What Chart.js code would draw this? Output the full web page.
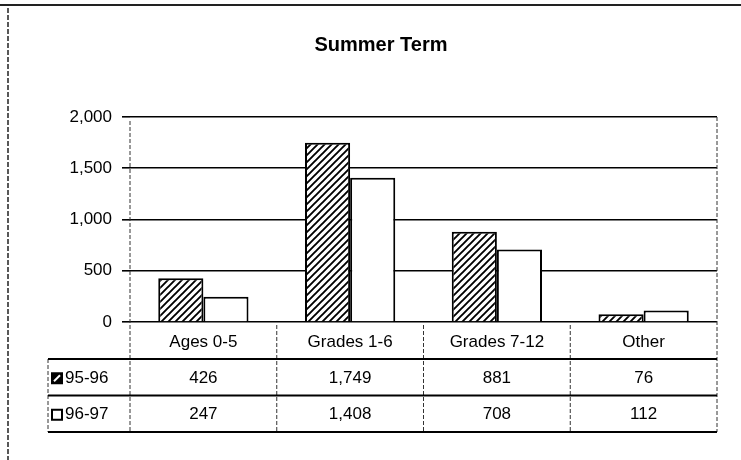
<!DOCTYPE html>
<html>
<head>
<meta charset="utf-8">
<script src="https://cdn.jsdelivr.net/npm/chart.js@4.4.1/dist/chart.umd.min.js"></script>
<style>
  html, body { margin: 0; padding: 0; background: #fff; }
</style>
</head>
<body>
<canvas id="myChart" width="741" height="460"></canvas>
<script>
const categories = ["Ages 0-5", "Grades 1-6", "Grades 7-12", "Other"];
const seriesNames = ["95-96", "96-97"];
const values9596 = [426, 1749, 881, 76];
const values9697 = [247, 1408, 708, 112];
const yTicks = [0, 500, 1000, 1500, 2000];

const FONT = "'Liberation Sans', Arial, sans-serif";

// diagonal hatch used for the 95-96 bars
function makeHatch() {
  const c = document.createElement("canvas");
  c.width = 7;
  c.height = 7;
  const g = c.getContext("2d");
  g.fillStyle = "#fff";
  g.fillRect(0, 0, 7, 7);
  g.strokeStyle = "#000";
  g.lineWidth = 1.9;
  g.beginPath();
  g.moveTo(-1, 8); g.lineTo(8, -1);
  g.moveTo(-1, 1); g.lineTo(1, -1);
  g.moveTo(6, 8); g.lineTo(8, 6);
  g.stroke();
  return g.createPattern(c, "repeat");
}
const hatch = makeHatch();

const fmt = (v) => v.toLocaleString("en-US");

// frame, category dividers and the data table under the axis
const tablePlugin = {
  id: "dataTable",
  afterDraw(chart) {
    const { ctx, chartArea } = chart;
    const xs = chart.scales.x;
    const n = categories.length;
    const step = (chartArea.right - chartArea.left) / n;
    const tableTop = chartArea.bottom + 37;
    const rowH = 36.5;
    const tableBottom = tableTop + rowH * 2;
    const tableLeft = 48;

    ctx.save();

    // page frame
    ctx.strokeStyle = "#222";
    ctx.lineWidth = 2;
    ctx.beginPath();
    ctx.moveTo(0, 5); ctx.lineTo(741, 5);
    ctx.stroke();
    ctx.setLineDash([5, 2]);
    ctx.lineWidth = 1.5;
    ctx.beginPath();
    ctx.moveTo(8, 8); ctx.lineTo(8, 460);
    ctx.stroke();

    // outer dashed edges of the plot
    ctx.strokeStyle = "#333";
    ctx.lineWidth = 1;
    ctx.setLineDash([4, 2]);
    ctx.beginPath();
    ctx.moveTo(chartArea.left, chartArea.top + 4);
    ctx.lineTo(chartArea.left, tableBottom);
    ctx.moveTo(chartArea.right, chartArea.top);
    ctx.lineTo(chartArea.right, tableBottom);
    for (let i = 1; i < n; i++) {
      const ex = chartArea.left + step * i;
      ctx.moveTo(ex, chartArea.bottom + 3);
      ctx.lineTo(ex, tableBottom);
    }
    ctx.moveTo(tableLeft, tableTop);
    ctx.lineTo(tableLeft, tableBottom);
    ctx.stroke();

    // table rules
    ctx.setLineDash([]);
    ctx.strokeStyle = "#000";
    ctx.lineWidth = 2;
    ctx.beginPath();
    for (let r = 0; r <= 2; r++) {
      const y = tableTop + rowH * r;
      ctx.moveTo(tableLeft, y);
      ctx.lineTo(chartArea.right, y);
    }
    ctx.stroke();

    // rows
    const rows = [values9596, values9697];
    ctx.fillStyle = "#000";
    ctx.font = "17px " + FONT;
    ctx.textBaseline = "middle";
    rows.forEach((vals, r) => {
      const cy = tableTop + rowH * r + rowH / 2 + 1;
      // legend key
      const kx = tableLeft + 3, ky = cy - 6, ks = 12;
      if (r === 0) {
        ctx.fillStyle = "#000";
        ctx.fillRect(kx, ky, ks, ks);
        ctx.strokeStyle = "#fff";
        ctx.lineWidth = 2;
        ctx.beginPath();
        ctx.moveTo(kx + 3, ky + ks - 3);
        ctx.lineTo(kx + ks - 3, ky + 3);
        ctx.stroke();
      } else {
        ctx.fillStyle = "#fff";
        ctx.fillRect(kx, ky, ks, ks);
        ctx.strokeStyle = "#000";
        ctx.lineWidth = 2;
        ctx.strokeRect(kx + 1, ky + 1, ks - 2, ks - 2);
      }
      ctx.fillStyle = "#000";
      ctx.textAlign = "left";
      ctx.fillText(seriesNames[r], kx + ks + 2, cy);
      ctx.textAlign = "center";
      vals.forEach((v, i) => {
        ctx.fillText(fmt(v), xs.getPixelForValue(i), cy);
      });
    });

    ctx.restore();
  }
};

new Chart(document.getElementById("myChart"), {
  type: "bar",
  data: {
    labels: categories,
    datasets: [
      {
        label: seriesNames[0],
        data: values9596,
        backgroundColor: hatch,
        borderColor: "#000",
        borderWidth: 2,
        barPercentage: 1,
        categoryPercentage: 0.615,
      },
      {
        label: seriesNames[1],
        data: values9697,
        backgroundColor: "#fff",
        borderColor: "#000",
        borderWidth: 2,
        barPercentage: 1,
        categoryPercentage: 0.615,
      },
    ],
  },
  options: {
    responsive: false,
    animation: false,
    devicePixelRatio: 1,
    layout: { padding: { left: 45, right: 24, top: 0, bottom: 0 } },
    plugins: {
      legend: { display: false },
      tooltip: { enabled: false },
      title: {
        display: true,
        text: "Summer Term",
        color: "#000",
        font: { family: FONT, size: 20, weight: "bold", lineHeight: 1.2 },
        padding: { top: 33, bottom: 60 },
      },
    },
    scales: {
      x: {
        afterFit: (s) => { s.height = 138; },
        grid: { display: false, drawTicks: false },
        border: { display: false },
        ticks: {
          color: "#000",
          font: { family: FONT, size: 17 },
          padding: 10,
          maxRotation: 0,
        },
      },
      y: {
        min: 0,
        max: 2000,
        afterFit: (s) => { s.width = 85; },
        afterBuildTicks: (s) => { s.ticks = yTicks.map((v) => ({ value: v })); },
        border: { display: false },
        grid: { color: "#000", lineWidth: 1.6, tickLength: 8 },
        ticks: {
          color: "#000",
          font: { family: FONT, size: 17 },
          padding: 10,
          callback: (v) => fmt(v),
        },
      },
    },
  },
  plugins: [tablePlugin],
});
</script>
</body>
</html>
